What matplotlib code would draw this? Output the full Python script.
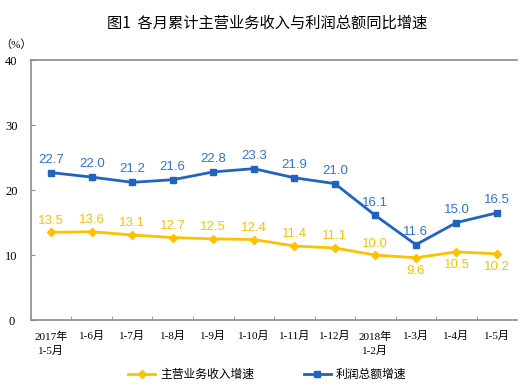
import matplotlib
matplotlib.use('Agg')
import matplotlib.pyplot as plt

plt.rcParams['font.family'] = ['Liberation Serif', 'Noto Sans CJK SC']

months = ['2017年\n1-5月', '1-6月', '1-7月', '1-8月', '1-9月', '1-10月', '1-11月',
          '1-12月', '2018年\n1-2月', '1-3月', '1-4月', '1-5月']
revenue = [13.5, 13.6, 13.1, 12.7, 12.5, 12.4, 11.4, 11.1, 10.0, 9.6, 10.5, 10.2]
profit = [22.7, 22.0, 21.2, 21.6, 22.8, 23.3, 21.9, 21.0, 16.1, 11.6, 15.0, 16.5]
# the last three revenue labels sit under their points
rev_below = [False] * 9 + [True] * 3

orange = '#FFC000'
blue = '#1F64C0'
label_blue = '#2E75D6'
gray = '#8C8C8C'

fig = plt.figure(figsize=(5.24, 3.88), dpi=100)
ax = fig.add_axes([0.059, 0.175, 0.928, 0.67])

x = list(range(len(months)))
ax.plot(x, revenue, color=orange, lw=2, marker='D', ms=4.5, label='主营业务收入增速')
ax.plot(x, profit, color=blue, lw=2, marker='s', ms=4, label='利润总额增速')

lab_font = ['Liberation Sans', 'Noto Sans CJK SC']
for i in x:
    if rev_below[i]:
        ax.annotate(f'{revenue[i]:.1f}', (i, revenue[i]), xytext=(0, -5), textcoords='offset points',
                    ha='center', va='top', color=orange, fontsize=9.5, family=lab_font)
    else:
        ax.annotate(f'{revenue[i]:.1f}', (i, revenue[i]), xytext=(0, 4), textcoords='offset points',
                    ha='center', va='bottom', color=orange, fontsize=9.5, family=lab_font)
    ax.annotate(f'{profit[i]:.1f}', (i, profit[i]), xytext=(0, 5), textcoords='offset points',
                ha='center', va='bottom', color=label_blue, fontsize=9.5, family=lab_font)

ax.set_xlim(-0.5, 11.5)
ax.set_ylim(0, 40)
ax.set_yticks([0, 10, 20, 30, 40])
ax.set_xticks(x)
ax.set_xticklabels(months, fontsize=8, linespacing=1.5)
ax.set_xticks([i + 0.5 for i in x[:-1]], minor=True)
ax.tick_params(axis='x', which='major', length=0, pad=8)
ax.tick_params(axis='x', which='minor', direction='in', length=3, color=gray)
ax.tick_params(axis='y', direction='in', length=3, color=gray, labelsize=9, pad=14)
for lbl in ax.get_yticklabels():
    lbl.set_horizontalalignment('center')

for side in ['left', 'bottom', 'top']:
    ax.spines[side].set_color(gray)
    ax.spines[side].set_linewidth(1.2)
ax.spines['right'].set_visible(False)

fig.text(0.51, 0.94, '图1  各月累计主营业务收入与利润总额同比增速', ha='center', va='center',
         fontsize=11, family=['Noto Sans CJK SC'])
fig.text(0.0, 0.885, '（%）', ha='left', va='center', fontsize=8)

ax.legend(loc='center', bbox_to_anchor=(0.486, -0.21), ncol=2, frameon=False,
          columnspacing=4.2, handlelength=2.3, handletextpad=0.4,
          prop={'family': ['Noto Sans CJK SC'], 'size': 8.5})

fig.savefig('out.png', dpi=100)
